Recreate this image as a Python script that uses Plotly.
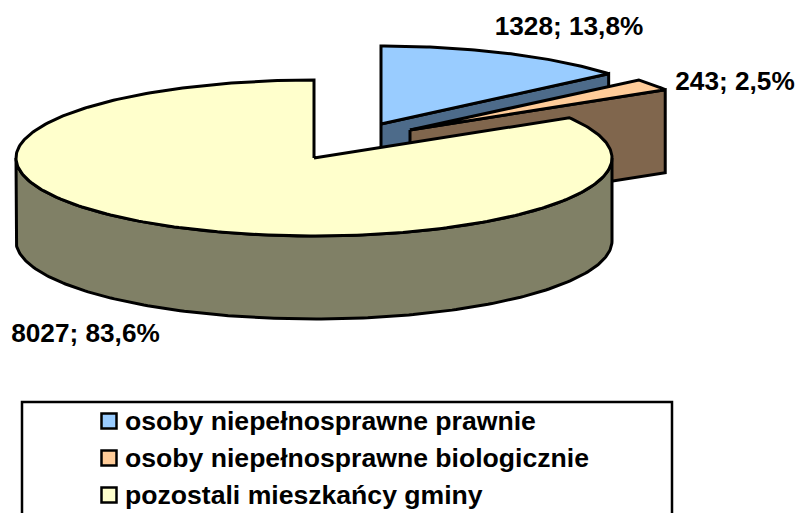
import numpy as np
import plotly.graph_objects as go

categories = ["osoby niepełnosprawne prawnie", "osoby niepełnosprawne biologicznie", "pozostali mieszkańcy gminy"]
values = [1328, 243, 8027]
top_colors = ["#99CCFF", "#FFCC99", "#FFFFCC"]
side_colors = ["#4D6B8A", "#80664D", "#808066"]
centers = [(381, 124), (410, 130), (314, 158)]
label_pos = [(569, 28.5), (735, 83.5), (85.5, 335)]

RX, RY, DEPTH = 298, 78, 83
FONT = dict(family="Liberation Sans, Arial, sans-serif", size=26.2, color="black")
LEGEND_FONT = dict(family="Liberation Sans, Arial, sans-serif", size=26.6, color="black")
LW = 3

total = sum(values)
cum = np.cumsum([0] + values) / total * 360.0


def pt(c, deg, dy=0):
    r = np.radians(deg)
    return c[0] + RX * np.sin(r), c[1] - RY * np.cos(r) + dy


def poly(xs, ys, fill):
    return go.Scatter(x=list(xs), y=list(ys), mode="lines", fill="toself", fillcolor=fill,
                      line=dict(color="black", width=LW), hoverinfo="skip", showlegend=False)


fig = go.Figure()

# exploded slices: cut face at the clockwise end, then the top
for i in [0, 1]:
    c = centers[i]
    ex, ey = pt(c, cum[i + 1])
    fig.add_trace(poly([c[0], ex, ex, c[0], c[0]],
                       [c[1], ey, ey + DEPTH, c[1] + DEPTH, c[1]], side_colors[i]))
    t = np.linspace(cum[i], cum[i + 1], 80)
    ax, ay = pt(c, t)
    fig.add_trace(poly(np.r_[c[0], ax, c[0]], np.r_[c[1], ay, c[1]], top_colors[i]))

# large slice: outer rim, then the top
c = centers[2]
t = np.linspace(90, 270, 200)
ax, ay = pt(c, t)
fig.add_trace(poly(np.r_[ax, ax[::-1], ax[0]], np.r_[ay, (ay + DEPTH)[::-1], ay[0]], side_colors[2]))
t = np.linspace(cum[2], cum[3], 300)
ax, ay = pt(c, t)
fig.add_trace(poly(np.r_[c[0], ax, c[0]], np.r_[c[1], ay, c[1]], top_colors[2]))

# data labels
labels = [f"{v}; {v / total * 100:.1f}%".replace(".", ",") for v in values]
fig.add_trace(go.Scatter(x=[p[0] for p in label_pos], y=[p[1] for p in label_pos], mode="text",
                         text=[f"<b>{s}</b>" for s in labels], textfont=FONT,
                         textposition="middle center", hoverinfo="skip", showlegend=False))

# legend
legend_y = [421, 458, 495]
fig.add_trace(go.Scatter(x=[109] * 3, y=legend_y, mode="markers",
                         marker=dict(symbol="square", size=15, color=top_colors,
                                     line=dict(color="black", width=2.5)),
                         hoverinfo="skip", showlegend=False))
fig.add_trace(go.Scatter(x=[125] * 3, y=[y + 2 for y in legend_y], mode="text",
                         text=[f"<b>{s}</b>" for s in categories], textfont=LEGEND_FONT,
                         textposition="middle right", hoverinfo="skip", showlegend=False))

fig.update_layout(
    width=796, height=513, margin=dict(l=0, r=0, t=0, b=0),
    paper_bgcolor="white", plot_bgcolor="white", showlegend=False,
    xaxis=dict(range=[0, 796], visible=False, fixedrange=True),
    yaxis=dict(range=[513, 0], visible=False, fixedrange=True),
    shapes=[dict(type="rect", xref="x", yref="y", x0=22, x1=672, y0=402, y1=530,
                 line=dict(color="black", width=2.5), layer="below")],
)
fig.write_html("out.html", config=dict(displayModeBar=False),
               post_script="document.body.style.margin='0';document.body.style.overflow='hidden';")
